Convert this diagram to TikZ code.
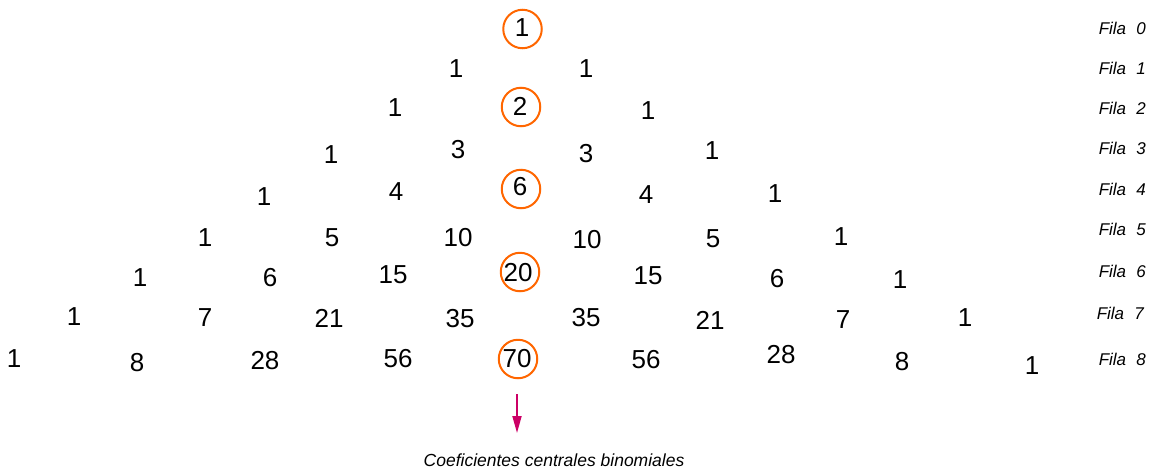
\documentclass[tikz,border=0pt]{standalone}
\usepackage{fontspec}
\setmainfont{Liberation Sans}
\usetikzlibrary{arrows.meta}
\definecolor{ring}{RGB}{255,102,0}
\definecolor{arrowc}{RGB}{204,0,102}
\begin{document}
\begin{tikzpicture}[x=1pt,y=-1pt,
  num/.style={inner sep=0pt,font=\fontsize{26}{26}\selectfont},
  ringnode/.style={draw=ring,line width=2pt,circle,minimum size=38.5pt,inner sep=0pt},
  fila/.style={inner sep=0pt,anchor=east,font=\fontsize{17}{17}\selectfont\itshape},
  captext/.style={inner sep=0pt,font=\fontsize{17.5}{17.5}\selectfont\itshape},
  arr/.style={draw=arrowc,line width=1.8pt,-{Triangle[width=9pt,length=17pt]}}]
\useasboundingbox (0,0) rectangle (1158,469);
% rings
\node[ringnode] (c0) at (522.5,29) {};
\node[ringnode] (c2) at (521,107) {};
\node[ringnode] (c4) at (521,189) {};
\node[ringnode] (c6) at (520,272) {};
\node[ringnode] (c8) at (518,359) {};
% row 0
\node[num] (n00) at (522,28) {1};
% row 1
\node[num] (n10) at (456,69) {1};
\node[num] (n11) at (586,69) {1};
% row 2
\node[num] (n20) at (395,108) {1};
\node[num] (n21) at (520,106) {2};
\node[num] (n22) at (648,111) {1};
% row 3
\node[num] (n30) at (331,155) {1};
\node[num] (n31) at (458,150) {3};
\node[num] (n32) at (586,154) {3};
\node[num] (n33) at (712,151) {1};
% row 4
\node[num] (n40) at (264,197) {1};
\node[num] (n41) at (396,192) {4};
\node[num] (n42) at (520,187) {6};
\node[num] (n43) at (646,195) {4};
\node[num] (n44) at (775,194) {1};
% row 5
\node[num] (n50) at (205,238) {1};
\node[num] (n51) at (332,238) {5};
\node[num] (n52) at (458,238) {10};
\node[num] (n53) at (587,240) {10};
\node[num] (n54) at (713,239) {5};
\node[num] (n55) at (841,237) {1};
% row 6
\node[num] (n60) at (140,278) {1};
\node[num] (n61) at (270,278) {6};
\node[num] (n62) at (393,275) {15};
\node[num] (n63) at (518,273) {20};
\node[num] (n64) at (648,276) {15};
\node[num] (n65) at (777,279) {6};
\node[num] (n66) at (900,280) {1};
% row 7
\node[num] (n70) at (74,317) {1};
\node[num] (n71) at (205,318) {7};
\node[num] (n72) at (329,318) {21};
\node[num] (n73) at (460,319) {35};
\node[num] (n74) at (586,318) {35};
\node[num] (n75) at (710,320) {21};
\node[num] (n76) at (843,320) {7};
\node[num] (n77) at (965,318) {1};
% row 8
\node[num] (n80) at (14,359) {1};
\node[num] (n81) at (137,363) {8};
\node[num] (n82) at (265,361) {28};
\node[num] (n83) at (398,359) {56};
\node[num] (n84) at (517,359) {70};
\node[num] (n85) at (646,360) {56};
\node[num] (n86) at (781,355) {28};
\node[num] (n87) at (902,362) {8};
\node[num] (n88) at (1032,366) {1};
% row labels
\node[fila] (f0) at (1146,28) {Fila\hspace{0.6em}0};
\node[fila] (f1) at (1146,68) {Fila\hspace{0.6em}1};
\node[fila] (f2) at (1146,108) {Fila\hspace{0.6em}2};
\node[fila] (f3) at (1146,148) {Fila\hspace{0.6em}3};
\node[fila] (f4) at (1146,189) {Fila\hspace{0.6em}4};
\node[fila] (f5) at (1146,229) {Fila\hspace{0.6em}5};
\node[fila] (f6) at (1146,271) {Fila\hspace{0.6em}6};
\node[fila] (f7) at (1144,313) {Fila\hspace{0.6em}7};
\node[fila] (f8) at (1146,359) {Fila\hspace{0.6em}8};
% arrow and caption
\coordinate (a1) at (517,394);
\coordinate (a2) at (517,433);
\draw[arr] (a1) -- (a2);
\node[captext] (capt) at (554,460) {Coeficientes centrales binomiales};
\end{tikzpicture}
\end{document}
